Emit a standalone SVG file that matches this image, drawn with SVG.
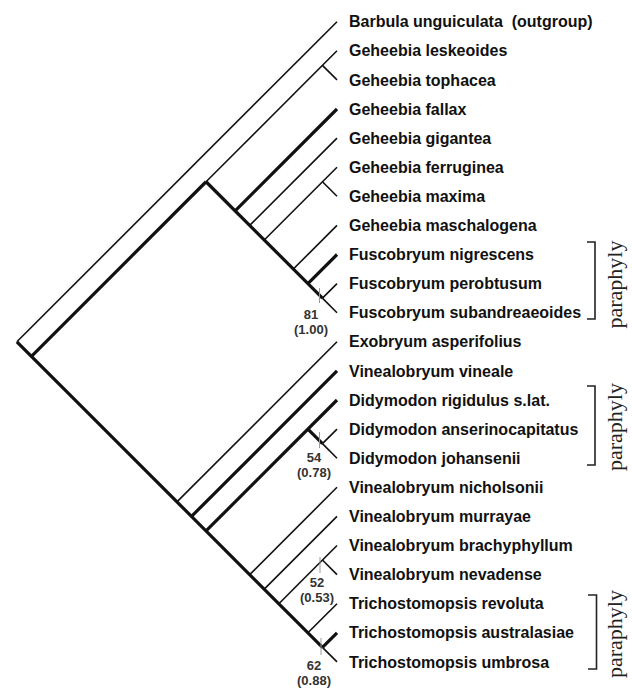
<svg xmlns="http://www.w3.org/2000/svg" width="632" height="689" viewBox="0 0 632 689">
<style>
.thin{stroke:#111;stroke-width:1.6;fill:none}
.thick{stroke:#111;stroke-width:3.2;fill:none}
.tick{stroke:#999;stroke-width:1;fill:none}
.tx{font-family:"Liberation Sans",Arial,sans-serif;font-weight:bold;font-size:16px;fill:#111}
.sup{font-family:"Liberation Sans",Arial,sans-serif;font-weight:bold;font-size:13px;fill:#333;text-anchor:middle}
.br{stroke:#222;stroke-width:1.6;fill:none}
.par{font-family:"Liberation Serif","Times New Roman",serif;font-size:22px;fill:#222;text-anchor:middle}
</style>
<rect width="632" height="689" fill="#fff"/>
<g id="connectors">
<line class="thin" x1="16.9" y1="341.8" x2="337" y2="21.7"/>
<line class="thick" x1="16.9" y1="341.8" x2="322.45" y2="647.35"/>
<line class="thin" x1="322.45" y1="647.35" x2="337" y2="661.9"/>
<line class="thick" x1="31.45" y1="356.35" x2="206.05" y2="181.75"/>
<line class="thin" x1="206.05" y1="181.75" x2="337" y2="50.8"/>
<line class="thin" x1="322.45" y1="65.35" x2="337" y2="79.9"/>
<line class="thick" x1="206.05" y1="181.75" x2="322.45" y2="298.15"/>
<line class="thin" x1="322.45" y1="298.15" x2="337" y2="312.7"/>
<line class="thick" x1="235.15" y1="210.85" x2="337" y2="109"/>
<line class="thin" x1="249.7" y1="225.4" x2="337" y2="138.1"/>
<line class="thin" x1="264.25" y1="239.95" x2="337" y2="167.2"/>
<line class="thin" x1="322.45" y1="181.75" x2="337" y2="196.3"/>
<line class="thin" x1="293.35" y1="269.05" x2="337" y2="225.4"/>
<line class="thick" x1="307.9" y1="283.6" x2="337" y2="254.5"/>
<line class="thin" x1="322.45" y1="298.15" x2="337" y2="283.6"/>
<line class="thin" x1="176.95" y1="501.85" x2="337" y2="341.8"/>
<line class="thick" x1="191.5" y1="516.4" x2="337" y2="370.9"/>
<line class="thick" x1="206.05" y1="530.95" x2="337" y2="400"/>
<line class="thick" x1="307.9" y1="429.1" x2="322.45" y2="443.65"/>
<line class="thin" x1="322.45" y1="443.65" x2="337" y2="458.2"/>
<line class="thin" x1="322.45" y1="443.65" x2="337" y2="429.1"/>
<line class="thin" x1="249.7" y1="574.6" x2="337" y2="487.3"/>
<line class="thin" x1="264.25" y1="589.15" x2="337" y2="516.4"/>
<line class="thin" x1="278.8" y1="603.7" x2="337" y2="545.5"/>
<line class="thin" x1="322.45" y1="560.05" x2="337" y2="574.6"/>
<line class="thin" x1="307.9" y1="632.8" x2="337" y2="603.7"/>
<line class="thick" x1="322.45" y1="647.35" x2="337" y2="632.8"/>
</g>
<g id="support">
<line class="tick" x1="319.5" y1="288" x2="319.5" y2="303"/>
<text class="sup" x="311" y="319">81</text>
<text class="sup" x="311" y="334">(1.00)</text>
<line class="tick" x1="319.5" y1="432" x2="319.5" y2="448"/>
<text class="sup" x="314" y="462">54</text>
<text class="sup" x="314" y="477">(0.78)</text>
<line class="tick" x1="320" y1="557" x2="320" y2="573"/>
<text class="sup" x="317" y="587">52</text>
<text class="sup" x="317" y="602">(0.53)</text>
<line class="tick" x1="321" y1="638" x2="321" y2="655"/>
<text class="sup" x="314" y="670">62</text>
<text class="sup" x="314" y="685">(0.88)</text>
</g>
<g id="taxa">
<text id="t0" class="tx" x="349" y="27.3" style="white-space:pre">Barbula unguiculata  (outgroup)</text>
<text id="t1" class="tx" x="349" y="56.4">Geheebia leskeoides</text>
<text id="t2" class="tx" x="349" y="85.5">Geheebia tophacea</text>
<text id="t3" class="tx" x="349" y="114.6">Geheebia fallax</text>
<text id="t4" class="tx" x="349" y="143.7">Geheebia gigantea</text>
<text id="t5" class="tx" x="349" y="172.8">Geheebia ferruginea</text>
<text id="t6" class="tx" x="349" y="201.9">Geheebia maxima</text>
<text id="t7" class="tx" x="349" y="231">Geheebia maschalogena</text>
<text id="t8" class="tx" x="349" y="260.1">Fuscobryum nigrescens</text>
<text id="t9" class="tx" x="349" y="289.2">Fuscobryum perobtusum</text>
<text id="t10" class="tx" x="349" y="318.3">Fuscobryum subandreaeoides</text>
<text id="t11" class="tx" x="349" y="347.4">Exobryum asperifolius</text>
<text id="t12" class="tx" x="349" y="376.5">Vinealobryum vineale</text>
<text id="t13" class="tx" x="349" y="405.6">Didymodon rigidulus s.lat.</text>
<text id="t14" class="tx" x="349" y="434.7">Didymodon anserinocapitatus</text>
<text id="t15" class="tx" x="349" y="463.8">Didymodon johansenii</text>
<text id="t16" class="tx" x="349" y="492.9">Vinealobryum nicholsonii</text>
<text id="t17" class="tx" x="349" y="522">Vinealobryum murrayae</text>
<text id="t18" class="tx" x="349" y="551.1">Vinealobryum brachyphyllum</text>
<text id="t19" class="tx" x="349" y="580.2">Vinealobryum nevadense</text>
<text id="t20" class="tx" x="349" y="609.3">Trichostomopsis revoluta</text>
<text id="t21" class="tx" x="349" y="638.4">Trichostomopsis australasiae</text>
<text id="t22" class="tx" x="349" y="667.5">Trichostomopsis umbrosa</text>
</g>
<g id="brackets">
<path class="br" d="M587,242 H595 V319 H587"/>
<text class="par" transform="translate(622,284.5) rotate(-90)">paraphyly</text>
<path class="br" d="M587,386 H595 V465 H587"/>
<text class="par" transform="translate(622,427) rotate(-90)">paraphyly</text>
<path class="br" d="M588,595 H596.5 V669 H588"/>
<text class="par" transform="translate(622,634) rotate(-90)">paraphyly</text>
</g>
</svg>
